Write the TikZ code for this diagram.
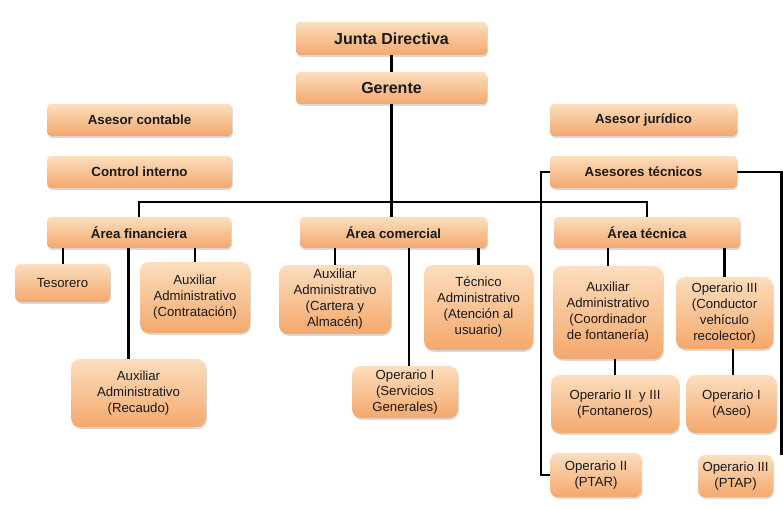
\documentclass[tikz,border=0pt]{standalone}
\usepackage{fontspec}
\setmainfont{Liberation Sans}
\usetikzlibrary{shadows}
\definecolor{boxtop}{RGB}{252,222,190}
\definecolor{boxbot}{RGB}{244,168,108}
\definecolor{boxtxt}{RGB}{25,25,25}
\tikzset{
  basebox/.style={shape=rectangle, top color=boxtop, bottom color=boxbot, draw=none,
    text=boxtxt, align=center, inner sep=2pt,
    drop shadow={shadow xshift=0.8pt, shadow yshift=-1.8pt, opacity=0.3}},
  headbox/.style={basebox, rounded corners=4pt, font=\fontsize{13.3}{15}\selectfont\bfseries},
  bigbox/.style={headbox, font=\fontsize{16}{18}\selectfont\bfseries},
  subbox/.style={basebox, rounded corners=9pt, font=\fontsize{13.2}{16}\selectfont},
  link/.style={draw=black, line width=2.6pt}
}
\begin{document}
\begin{tikzpicture}[x=1pt,y=1pt]
\useasboundingbox (0,0) rectangle (783,-508);
% top
\node[bigbox, minimum width=191pt, minimum height=33pt] (jd) at (391.5,-38.5) {Junta Directiva};
\node[bigbox, minimum width=191pt, minimum height=32pt] (ger) at (391.5,-88) {Gerente};
\node[headbox, minimum width=185pt, minimum height=32pt] (acont) at (139.5,-120) {Asesor contable};
\node[headbox, minimum width=185pt, minimum height=32pt] (cint) at (139.5,-172) {Control interno};
\node[headbox, minimum width=187pt, minimum height=32pt] (ajur) at (643.5,-120) {Asesor jurídico};
\node[headbox, minimum width=187pt, minimum height=32pt] (atec) at (643.5,-172) {Asesores técnicos};
% areas
\node[headbox, minimum width=184pt, minimum height=31pt] (afin) at (139,-232.5) {Área financiera};
\node[headbox, minimum width=187pt, minimum height=31pt] (acom) at (393.5,-232.5) {Área comercial};
\node[headbox, minimum width=186pt, minimum height=31pt] (atecn) at (647,-232.5) {Área técnica};
% sub
\node[subbox, rounded corners=6pt, minimum width=95pt, minimum height=38pt] (tes) at (62.5,-283) {Tesorero};
\node[subbox, minimum width=110pt, minimum height=71pt] (contr) at (195,-297.5) {Auxiliar\\Administrativo\\(Contratación)};
\node[subbox, minimum width=135pt, minimum height=68pt] (rec) at (138.5,-393) {Auxiliar\\Administrativo\\(Recaudo)};
\node[subbox, minimum width=112pt, minimum height=69pt] (cart) at (335,-299.5) {Auxiliar\\Administrativo\\(Cartera y\\Almacén)};
\node[subbox, minimum width=109pt, minimum height=85pt] (tecadm) at (478.5,-307.5) {Técnico\\Administrativo\\(Atención al\\usuario)};
\node[subbox, minimum width=106pt, minimum height=52pt] (opserv) at (405,-392) {Operario I\\(Servicios\\Generales)};
\node[subbox, minimum width=110pt, minimum height=93pt] (coord) at (608,-312.5) {Auxiliar\\Administrativo\\(Coordinador\\de fontanería)};
\node[subbox, minimum width=97pt, minimum height=72pt] (cond) at (724.5,-313) {Operario III\\(Conductor\\vehículo\\recolector)};
\node[subbox, minimum width=128pt, minimum height=58pt] (op23) at (615,-404) {Operario II~ y III\\(Fontaneros)};
\node[subbox, minimum width=90pt, minimum height=58pt] (aseo) at (731.5,-404) {Operario I\\(Aseo)};
\node[subbox, rounded corners=7pt, minimum width=91pt, minimum height=44pt] (ptar) at (596,-475) {Operario II\\(PTAR)};
\node[subbox, rounded corners=7pt, minimum width=75pt, minimum height=42pt] (ptap) at (735.5,-476) {Operario III\\(PTAP)};
% links
\draw[link] (jd.south) -- (ger.north);
\draw[link] (ger.south) -- (ger.south |- acom.north);
\draw[link] (afin.north) -- ++(0,15) -| (atecn.north);
\draw[link] (tes.north -| 63,0) -- (afin.south -| 63,0);
\draw[link] ([xshift=-10pt]rec.north) -- ([xshift=-10pt]rec.north |- afin.south);
\draw[link] (contr.north) -- (contr.north |- afin.south);
\draw[link] (cart.north) -- (cart.north |- acom.south);
\draw[link] ([xshift=4pt]opserv.north) -- ([xshift=4pt]opserv.north |- acom.south);
\draw[link] (tecadm.north) -- (tecadm.north |- acom.south);
\draw[link] (coord.north) -- (coord.north |- atecn.south);
\draw[link] (cond.north) -- (cond.north |- atecn.south);
\draw[link] (op23.north) -- (op23.north |- coord.south);
\draw[link] ([xshift=1.5pt]aseo.north) -- ([xshift=1.5pt]aseo.north |- cond.south);
\draw[link] (atec.west) -- ++(-9,0) |- (ptar.west);
\draw[link] (atec.east) -| ([xshift=8pt]ptap.north east);
\end{tikzpicture}
\end{document}
